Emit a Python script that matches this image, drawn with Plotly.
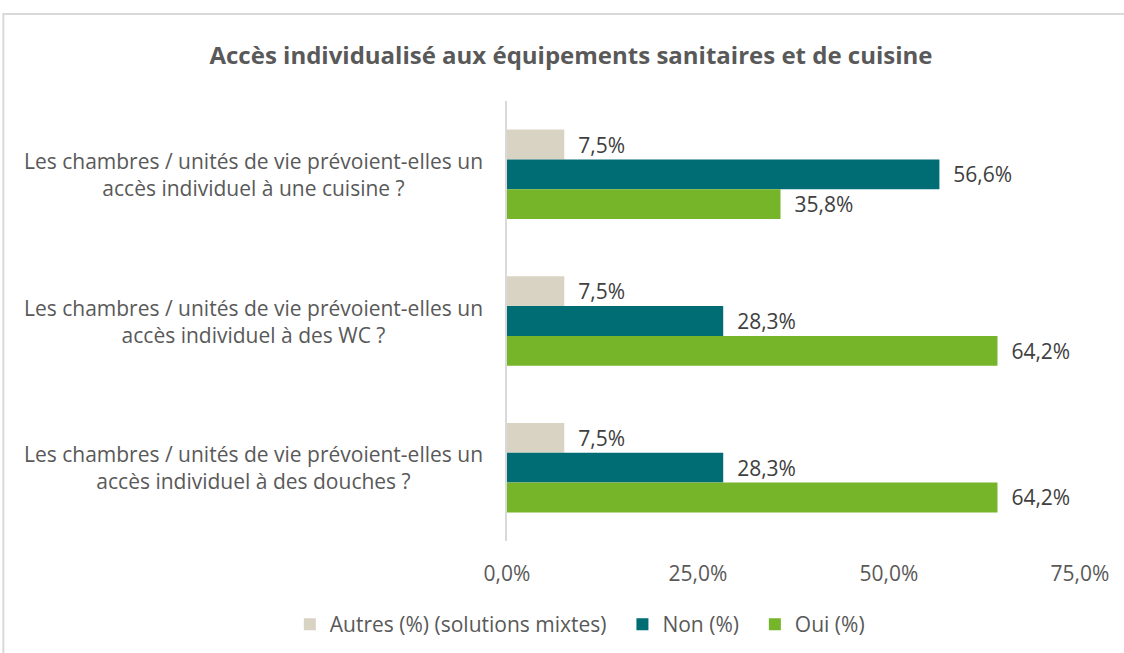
import plotly.graph_objects as go

questions = [
    "Les chambres / unités de vie prévoient-elles un<br>accès individuel à une cuisine ?",
    "Les chambres / unités de vie prévoient-elles un<br>accès individuel à des WC ?",
    "Les chambres / unités de vie prévoient-elles un<br>accès individuel à des douches ?",
]
series_names = ["Autres (%) (solutions mixtes)", "Non (%)", "Oui (%)"]
autres = [0.075, 0.075, 0.075]
non = [0.566, 0.283, 0.283]
oui = [0.358, 0.642, 0.642]
colors = ["#D9D3C4", "#006D75", "#76B52A"]
tick_vals = [0, 0.25, 0.5, 0.75]

FONT = "Open Sans"
GREY = "#595959"
PAD = "\u00a0\u00a0"

fig = go.Figure()
for i, (name, vals, col) in enumerate(zip(series_names, [autres, non, oui], colors)):
    # a bit of extra room between legend items, as in the original
    legend_name = name + (PAD if i < len(series_names) - 1 else "")
    fig.add_trace(go.Bar(
        y=questions, x=vals, name=legend_name, orientation="h",
        marker=dict(color=col, line=dict(width=0)),
        texttemplate=PAD + "%{x:.1%}", textposition="outside",
        textfont=dict(family=FONT, size=21, color="#404040"),
        cliponaxis=False,
    ))

# category labels, centred like the original
annots = []
for q in questions:
    annots.append(dict(
        x=-0.443, xref="paper", y=q, yref="y", text=q, showarrow=False,
        xanchor="center", yanchor="middle", align="center",
        font=dict(family=FONT, size=21, color=GREY),
    ))

fig.update_layout(
    width=1124, height=653,
    margin=dict(l=507, r=44, t=101, b=112, autoexpand=False),
    paper_bgcolor="white", plot_bgcolor="white",
    separators=",.",
    barmode="group", bargap=0.39, bargroupgap=0,
    title=dict(text="<b>Accès individualisé aux équipements sanitaires et de cuisine</b>",
               x=0.508, xanchor="center", y=0.915, yanchor="middle",
               font=dict(family=FONT, size=24, color=GREY)),
    xaxis=dict(range=[0, 0.75], tickvals=tick_vals, tickformat=".1%",
               showgrid=False, zeroline=False, showline=False,
               tickfont=dict(family=FONT, size=21, color=GREY), ticks="",
               ticklabelstandoff=18),
    yaxis=dict(autorange="reversed", showticklabels=False, showgrid=False,
               zeroline=False, showline=True, linecolor="#D9D9D9", linewidth=2,
               ticks=""),
    legend=dict(orientation="h", x=-0.379, xanchor="left", y=-0.19, yanchor="middle",
                font=dict(family=FONT, size=21, color=GREY), traceorder="normal",
                itemwidth=30),
    annotations=annots,
    shapes=[dict(type="rect", xref="paper", yref="paper",
                 x0=-0.879, x1=1.2, y0=-0.5, y1=1.198,
                 line=dict(color="#D9D9D9", width=2), fillcolor="rgba(0,0,0,0)",
                 layer="below")],
)

fig.write_html("out.html", config={"displayModeBar": False},
               post_script="document.body.style.margin='0';")
